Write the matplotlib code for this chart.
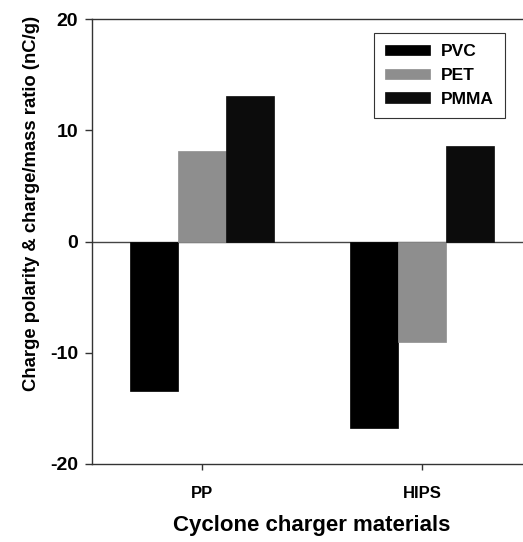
import matplotlib
matplotlib.use("Agg")
import matplotlib.pyplot as plt
import numpy as np

plt.rcParams['font.family'] = ['Liberation Sans', 'DejaVu Sans']
plt.rcParams['font.weight'] = 'bold'

categories = ["PP", "HIPS"]
series_names = ["PVC", "PET", "PMMA"]
pvc = [-13.4, -16.8]
pet = [8.1, -9.0]
pmma = [13.1, 8.6]
yticks = [-20, -10, 0, 10, 20]

colors = ["#000000", "#8e8e8e", "#0c0c0c"]

fig = plt.figure(figsize=(5.23, 5.42), dpi=100)
ax = fig.add_axes([92/523, 78/542, 440/523, 445/542])

x = np.arange(len(categories))
w = 0.218
ax.axhline(0, color="#444444", lw=1.0, zorder=1)
for i, (vals, name, c) in enumerate(zip([pvc, pet, pmma], series_names, colors)):
    ax.bar(x + (i - 1) * w, vals, width=w, color=c, edgecolor=c, linewidth=0.5,
           label=name, zorder=2)

ax.set_xlim(-0.5, 1.5)
ax.set_ylim(-20, 20)
ax.set_yticks(yticks)
ax.set_yticklabels([str(t) for t in yticks], fontsize=14, fontweight='bold')
ax.set_xticks(x)
ax.set_xticklabels(categories, fontsize=12, fontweight='bold')
ax.tick_params(axis='y', direction='out', length=5, width=1, pad=5, color="#333333")
ax.tick_params(axis='x', direction='out', length=4, width=1, pad=12, color="#333333")

for s in ["left", "top", "bottom"]:
    ax.spines[s].set_color("#333333")
    ax.spines[s].set_linewidth(1.0)
ax.spines["right"].set_visible(False)

ax.set_ylabel("Charge polarity & charge/mass ratio (nC/g)", fontsize=13.3,
              fontweight='bold')
ax.yaxis.set_label_coords((40 - 92) / 440, (542 - 203 - 78) / 445)
ax.set_xlabel("Cyclone charger materials", fontsize=16, fontweight='bold',
              labelpad=10)

leg = ax.legend(loc="upper right", bbox_to_anchor=(413/440, 1 - 14/445),
                prop={'weight': 'bold', 'size': 12.5},
                handlelength=2.6, handleheight=0.55, handletextpad=0.6,
                labelspacing=0.5, borderpad=0.65, borderaxespad=0,
                fancybox=False, framealpha=1, edgecolor="#333333")
leg.get_frame().set_linewidth(0.8)

fig.savefig("out.png", dpi=100)
